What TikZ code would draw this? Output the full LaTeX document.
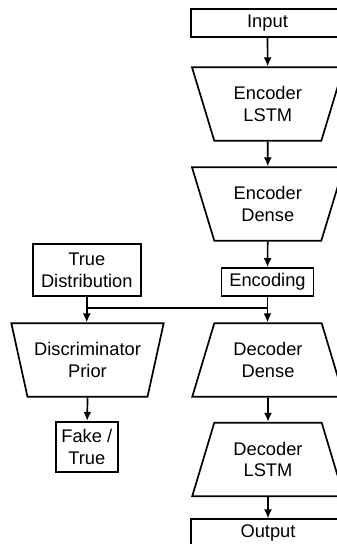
\documentclass[tikz,border=0pt]{standalone}
\usepackage{fontspec}
\setmainfont{Liberation Sans}
\usetikzlibrary{arrows.meta, shapes.geometric}

\tikzset{
  box/.style={draw, line width=1.7pt, rectangle, inner sep=1pt, align=center},
  funnel/.style={draw, line width=1.7pt, trapezium, trapezium stretches=true,
    trapezium left angle=111.5, trapezium right angle=111.5,
    minimum width=152.6pt, minimum height=73.5pt, inner sep=1pt, align=center},
  widen/.style={funnel, trapezium left angle=68.5, trapezium right angle=68.5},
  arr/.style={line width=1.7pt, -{Latex[length=9pt,width=8pt]}},
  wire/.style={line width=1.7pt}
}

\begin{document}
\begin{tikzpicture}[x=1pt, y=-1pt, font=\fontsize{18.3}{21.7}\selectfont]
  \useasboundingbox (0,0) rectangle (337,544);
  \clip (0,0) rectangle (337,544);
  % encoder column
  \node[box, minimum width=153.6pt, minimum height=28pt] (in) at (267.5, 23) {Input};
  \node[funnel] (elstm) at (267.8, 104) {Encoder\\LSTM};
  \node[funnel] (edense) at (267.8, 204) {Encoder\\Dense};
  \node[box, minimum width=92pt, minimum height=28pt] (code) at (267.5, 282) {Encoding};
  % discriminator column
  \node[box, minimum width=108pt, minimum height=52pt] (prior) at (86.8, 270) {True\\Distribution};
  \node[funnel] (disc) at (87.5, 360) {Discriminator\\Prior};
  \node[box, minimum width=61.7pt, minimum height=50pt] (judge) at (86.8, 446.7) {Fake /\\True};
  % decoder column
  \node[widen] (ddense) at (268, 360) {Decoder\\Dense};
  \node[widen] (dlstm) at (268, 459.4) {Decoder\\LSTM};
  \node[box, minimum width=153.6pt, minimum height=28pt] (out) at (268, 533.3) {Output};
  % arrows
  \coordinate (split) at (267.5, 307.7);
  \draw[arr] (in) -- (elstm);
  \draw[arr] (elstm) -- (edense);
  \draw[arr] (edense) -- (code);
  \draw[arr] (code.south) -- (code.south |- ddense.north);
  \draw[arr] (prior) -- (prior.south |- disc.north);
  \draw[wire] (prior.south |- split) -- (split);
  \draw[arr] (disc.south) -- (judge);
  \draw[arr] (ddense) -- (dlstm);
  \draw[arr] (dlstm) -- (out);
\end{tikzpicture}
\end{document}
